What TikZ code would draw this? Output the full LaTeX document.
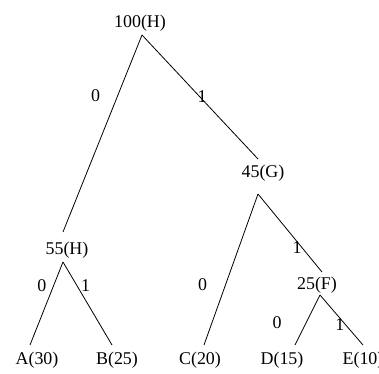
\documentclass[tikz,border=0pt]{standalone}
\usepackage{fontspec}
\setmainfont{Liberation Serif}
\usepackage{tikz}
\tikzset{
  weight/.style={inner xsep=1bp, inner ysep=0pt, text height=12bp, text depth=4bp, font=\fontsize{18}{21}\selectfont},
  bit/.style={inner sep=0pt, font=\fontsize{18}{21}\selectfont},
  edge/.style={line width=0.8bp, black}
}
\begin{document}
\begin{tikzpicture}[x=1bp, y=-1bp]
  \useasboundingbox (0,0) rectangle (379,374);

  % inner nodes
  \node[weight] (h100) at (140,23) {100(H)};
  \node[weight] (g45) at (263,173) {45(G)};
  \node[weight] (h55) at (67,250) {55(H)};
  \node[weight] (f25) at (317,285) {25(F)};
  % leaves
  \node[weight] (a) at (37,360) {A(30)};
  \node[weight] (b) at (117,360) {B(25)};
  \node[weight] (c) at (200,360) {C(20)};
  \node[weight] (d) at (282,360) {D(15)};
  \node[weight] (e) at (363,360) {E(10)};

  \draw[edge] ([shift={(2,12)}]h100.center) -- node[bit, pos=0.31, xshift=-22bp]{0} ([shift={(-4,-18)}]h55.center);
  \draw[edge] ([shift={(2,12)}]h100.center) -- node[bit, pos=0.5, xshift=2bp]{1} ([shift={(-5,-14)}]g45.center);
  \draw[edge] ([shift={(-5,21)}]g45.center) -- node[bit, pos=0.6, xshift=-23bp]{0} ([shift={(4,-15)}]c.center);
  \draw[edge] ([shift={(-5,21)}]g45.center) -- node[bit, pos=0.69, xshift=-5bp]{1} ([shift={(5,-13)}]f25.center);
  \draw[edge] ([shift={(-4,12)}]h55.center) -- node[bit, pos=0.28, xshift=-12bp]{0} ([shift={(-7,-15)}]a.center);
  \draw[edge] ([shift={(-4,12)}]h55.center) -- node[bit, pos=0.28, xshift=9bp]{1} ([shift={(-5,-15)}]b.center);
  \draw[edge] ([shift={(3,10)}]f25.center) -- node[bit, pos=0.56, xshift=-29bp]{0} ([shift={(13,-15)}]d.center);
  \draw[edge] ([shift={(3,10)}]f25.center) -- node[bit, pos=0.6, xshift=-6bp]{1} ([shift={(0,-15)}]e.center);
\end{tikzpicture}
\end{document}
